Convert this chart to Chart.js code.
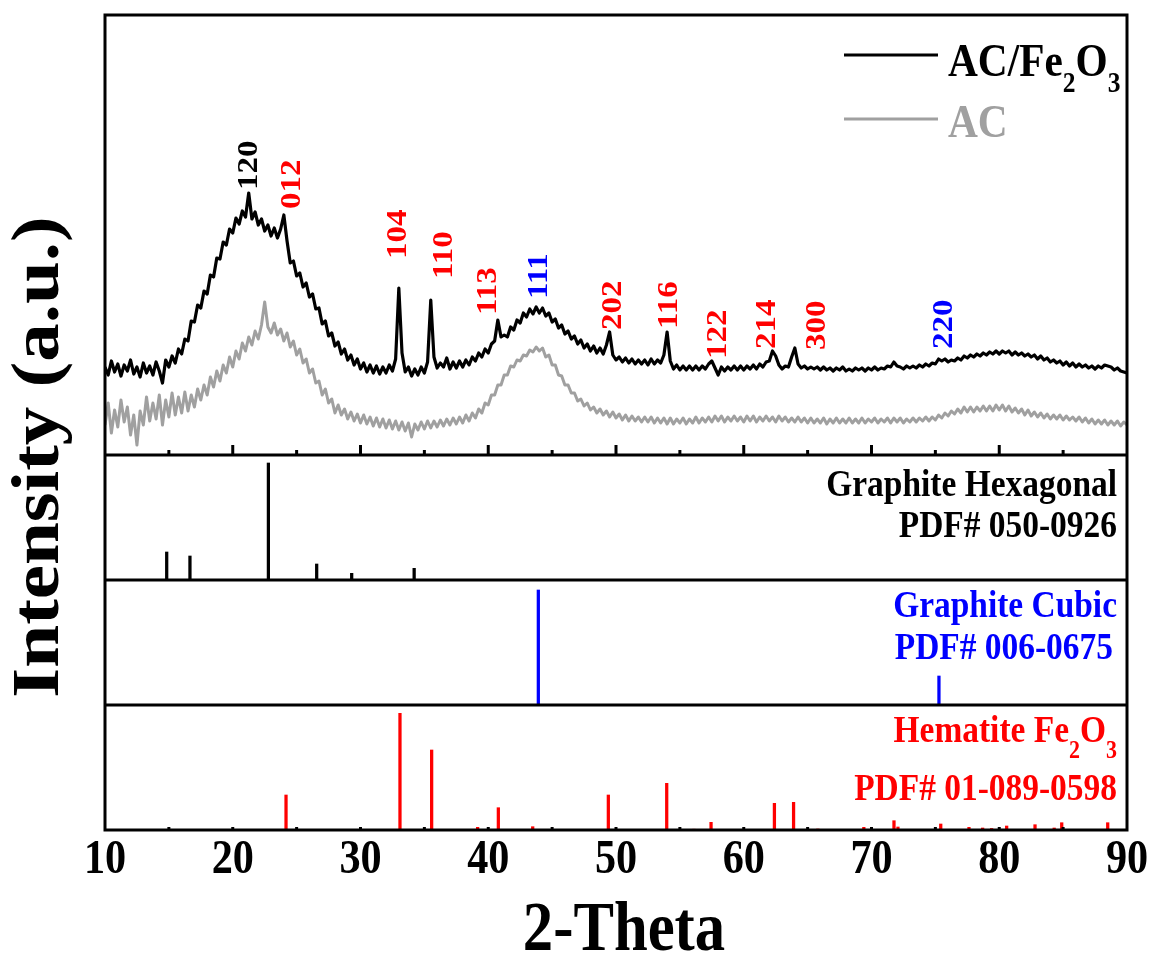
<!DOCTYPE html>
<html>
<head>
<meta charset="utf-8">
<script src="https://cdn.jsdelivr.net/npm/chart.js@4.4.1/dist/chart.umd.min.js"></script>
<style>
html, body { margin: 0; padding: 0; background: #fff; }
canvas { display: block; }
</style>
</head>
<body>
<canvas id="chart" width="1151" height="953"></canvas>
<script>
// 2-theta grid of the measured patterns: 10.00, 10.25, ... 90.00
const thetaStart = 10;
const thetaStep = 0.25;

// AC/Fe2O3 pattern, 4 points per degree
const acFe2o3 = [
    88, 80, 94, 83,   91, 79, 90, 84,   95, 81, 88, 78,   92, 82, 89, 80,
    93, 84, 72, 95,   88, 99, 92, 106,  101, 116, 114, 134, 133, 150, 147, 164,
    161, 180, 178, 197, 196, 213, 210, 226, 222, 237, 231, 244, 238, 262, 236, 243,
    230, 236, 224, 230, 219, 227, 217, 226, 240, 214, 192, 194, 179, 182, 168, 172,
    158, 161, 146, 147, 131, 134, 119, 122, 109, 113, 101, 106, 95, 100, 90, 96,
    86, 92, 83, 90,   82, 89, 81, 88,   82, 90, 84, 96,   167, 102, 83, 88,
    79, 86, 80, 88,   82, 93, 155, 98,  87, 92, 88, 97,   86, 93, 87, 94,
    88, 95, 90, 98,   94, 102, 98, 106, 102, 111, 114, 135, 118, 120, 118, 128,
    125, 135, 132, 142, 138, 146, 141, 148, 142, 147, 139, 142, 133, 136, 127, 130,
    121, 124, 116, 119, 111, 115, 107, 111, 104, 109, 102, 107, 101, 110, 123, 100,
    95, 98, 93, 97,   92, 96, 91, 95,   91, 95, 90, 96,   91, 95, 92, 100,
    123, 94, 86, 90,  85, 89, 85, 89,   85, 89, 85, 89,   86, 91, 94, 87,
    80, 88, 84, 88,   85, 89, 85, 89,   85, 89, 86, 90,   86, 91, 88, 93,
    94, 104, 99, 90,  86, 89, 88, 98,   107, 91, 87, 89,  86, 88, 86, 88,
    85, 88, 85, 87,   84, 87, 85, 88,   84, 86, 84, 87,   85, 87, 84, 87,
    85, 88, 85, 87,   86, 89, 88, 93,   89, 88, 86, 89,   87, 89, 87, 90,
    88, 91, 89, 92,   91, 96, 94, 96,   93, 95, 94, 97,   95, 99, 97, 100,
    98, 101, 99, 102, 100, 103, 101, 104, 101, 104, 102, 104, 100, 103, 100, 102,
    99, 101, 98, 100, 96, 99, 95, 97,   93, 95, 92, 94,   90, 93, 89, 92,
    88, 91, 88, 90,   87, 89, 86, 89,   87, 90, 89, 88,   85, 87, 84, 83,
    82
];

// AC pattern, same grid
const ac = [
    30, 52, 22, 45,   28, 55, 33, 48,   20, 40, 10, 44,   30, 58, 34, 52,
    36, 60, 30, 55,   38, 62, 40, 58,   42, 63, 44, 60,   48, 66, 55, 70,
    60, 78, 68, 84,   74, 90, 82, 98,   88, 104, 96, 112, 104, 118, 110, 124,
    116, 130, 153, 128, 122, 132, 120, 126, 114, 122, 108, 114, 100, 106, 92, 96,
    82, 86, 72, 74,   60, 66, 52, 56,   42, 50, 40, 46,   36, 43, 34, 41,
    32, 40, 31, 38,   29, 37, 28, 36,   27, 35, 26, 34,   25, 33, 24, 32,
    18, 31, 25, 33,   26, 34, 27, 34,   28, 35, 29, 36,   30, 37, 31, 38,
    32, 40, 34, 42,   37, 46, 42, 52,   50, 60, 60, 70,   70, 80, 80, 89,
    88, 95, 94, 100,  99, 105, 103, 108, 104, 107, 98, 100, 90, 90, 80, 79,
    70, 70, 62, 62,   54, 56, 49, 52,   45, 48, 42, 46,   40, 44, 38, 43,
    37, 41, 35, 40,   34, 39, 34, 38,   33, 38, 33, 38,   32, 37, 32, 37,
    31, 37, 31, 36,   32, 37, 31, 36,   32, 38, 32, 37,   33, 38, 33, 39,
    34, 39, 33, 38,   34, 39, 34, 38,   33, 39, 34, 39,   33, 38, 34, 39,
    34, 38, 33, 39,   34, 38, 33, 37,   33, 38, 33, 37,   32, 37, 32, 36,
    32, 37, 31, 36,   32, 37, 32, 36,   32, 37, 32, 36,   32, 37, 32, 36,
    33, 37, 32, 36,   33, 37, 32, 37,   33, 37, 32, 36,   33, 37, 33, 37,
    34, 38, 34, 38,   35, 40, 37, 42,   39, 44, 41, 46,   42, 48, 43, 48,
    43, 48, 44, 49,   44, 49, 44, 50,   45, 50, 44, 49,   43, 47, 42, 46,
    40, 45, 39, 43,   38, 42, 37, 41,   36, 40, 36, 40,   35, 39, 35, 38,
    34, 38, 33, 37,   32, 36, 31, 35,   31, 35, 30, 34,   30, 34, 29, 33,
    30
];

// reference stick patterns
const hexPos = [14.83, 16.65, 22.79, 26.57, 29.31, 34.2];
const hexInt = [28, 24, 117, 16, 6.7, 11.7];

const cubPos = [43.92, 75.28];
const cubInt = [115, 29];

const hemPos = [24.17, 33.09, 35.57, 39.17, 40.79, 43.48, 49.4, 53.97, 56.1, 57.44,
    62.4, 63.9, 65.8, 69.4, 71.76, 72.07, 75.42, 77.63, 78.7, 79.4,
    80.58, 82.8, 84.3, 84.89, 88.49];
const hemInt = [35, 116.7, 80, 2.7, 22.3, 3.3, 35, 46.7, 0.8, 7.7,
    26.7, 27.7, 1, 2.7, 9.3, 3, 6, 2.7, 2, 1.5,
    4, 5.3, 2, 7.3, 7.3];

// peak indices above the AC/Fe2O3 pattern
const peakText = ["120", "012", "104", "110", "113", "111", "202", "116", "122", "214", "300", "220"];
const peakPos = [21.15, 24.45, 32.77, 36.4, 39.84, 43.82, 49.59, 53.98, 57.83, 61.68, 65.58, 75.55];
const peakBase = [265, 246, 196, 176, 140, 156, 125, 126, 96, 106, 105, 106];
const peakColor = ["#000", "#f00", "#f00", "#f00", "#f00", "#00f", "#f00", "#f00", "#f00", "#f00", "#f00", "#00f"];

const xTicks = [10, 20, 30, 40, 50, 60, 70, 80, 90];

const SERIF = "'Liberation Serif', 'Times New Roman', serif";
const SX = 0.88;


function curve(vals) {
    return vals.map((v, i) => ({ x: thetaStart + i * thetaStep, y: v }));
}

function sticks(pos, inten) {
    return pos.map((p, i) => ({ x: p, y: inten[i] }));
}

function stickSet(pos, inten, color, axis) {
    return {
        type: "bar",
        data: sticks(pos, inten),
        yAxisID: axis,
        backgroundColor: color,
        borderWidth: 0,
        barThickness: 2.6,
        grouped: false
    };
}

function hiddenY(max, weight, stackWeight) {
    return {
        type: "linear",
        position: "left",
        stack: "xrd",
        stackWeight: stackWeight,
        weight: weight,
        min: 0,
        max: max,
        ticks: { display: false },
        grid: { display: false, drawTicks: false },
        border: { display: false }
    };
}

// draws text squeezed horizontally, like the narrow type of the figure
function say(ctx, s, x, y, size, color, align, rotate) {
    ctx.save();
    ctx.translate(x, y);
    ctx.scale(SX, 1);
    if (rotate) ctx.rotate(-Math.PI / 2);
    ctx.font = "bold " + size + "px " + SERIF;
    ctx.fillStyle = color;
    ctx.textAlign = align || "left";
    ctx.textBaseline = "alphabetic";
    ctx.fillText(s, 0, 0);
    ctx.restore();
}

function width(ctx, s, size) {
    ctx.font = "bold " + size + "px " + SERIF;
    return ctx.measureText(s).width * SX;
}

// text with subscripts, parts = [[text, isSub], ...], right or left anchored
function sayParts(ctx, parts, x, y, size, subSize, color, align) {
    let total = 0;
    parts.forEach(p => { total += width(ctx, p[0], p[1] ? subSize : size); });
    let cx = align === "right" ? x - total : x;
    parts.forEach(p => {
        const sz = p[1] ? subSize : size;
        say(ctx, p[0], cx, p[1] ? y + 16 : y, sz, color, "left", false);
        cx += width(ctx, p[0], sz);
    });
}


const framePlugin = {
    id: "frame",
    afterDatasetsDraw(chart) {
        const ctx = chart.ctx;
        const a = chart.chartArea;
        const x = chart.scales.x;
        const yTop = chart.scales.yTop;
        const yHex = chart.scales.yHex;
        const yCub = chart.scales.yCub;
        const yHem = chart.scales.yHem;

        ctx.save();
        ctx.strokeStyle = "#000";
        ctx.lineWidth = 3;
        ctx.strokeRect(a.left, a.top, a.right - a.left, a.bottom - a.top);

        ctx.beginPath();
        [yTop.bottom, yHex.bottom, yCub.bottom].forEach(yy => {
            ctx.moveTo(a.left, yy);
            ctx.lineTo(a.right, yy);
        });
        ctx.stroke();

        // inward ticks under the measured patterns and on the bottom axis
        ctx.beginPath();
        for (let t = 15; t < 90; t += 5) {
            const px = x.getPixelForValue(t);
            const len = t % 10 === 0 ? 10 : 5;
            ctx.moveTo(px, yTop.bottom);
            ctx.lineTo(px, yTop.bottom - len);
            ctx.moveTo(px, a.bottom);
            ctx.lineTo(px, a.bottom - 3);
        }
        ctx.stroke();
        ctx.restore();

        // tick labels and axis titles
        xTicks.forEach(t => {
            say(ctx, String(t), x.getPixelForValue(t), 873, 48, "#000", "center", false);
        });
        say(ctx, "2-Theta", (a.left + a.right) / 2 + 8, 950, 69, "#000", "center", false);
        say(ctx, "Intensity (a.u.)", 58, yTop.bottom + 2, 77, "#000", "center", true);

        // peak indices
        peakText.forEach((s, i) => {
            say(ctx, s, x.getPixelForValue(peakPos[i]) + 10, yTop.getPixelForValue(peakBase[i]),
                33, peakColor[i], "left", true);
        });

        // legend
        const lx = a.right - 283;
        ctx.save();
        ctx.lineWidth = 3;
        ctx.strokeStyle = "#000";
        ctx.beginPath();
        ctx.moveTo(lx, a.top + 40);
        ctx.lineTo(lx + 94, a.top + 40);
        ctx.stroke();
        ctx.strokeStyle = "#a0a0a0";
        ctx.beginPath();
        ctx.moveTo(lx, a.top + 104);
        ctx.lineTo(lx + 94, a.top + 104);
        ctx.stroke();
        ctx.restore();
        sayParts(ctx, [["AC/Fe", false], ["2", true], ["O", false], ["3", true]],
            lx + 104, a.top + 61, 47, 29, "#000", "left");
        say(ctx, "AC", lx + 104, a.top + 122, 47, "#a0a0a0", "left", false);

        // reference card names
        const rx = a.right - 10;
        say(ctx, "Graphite Hexagonal", rx, yHex.top + 41, 38, "#000", "right", false);
        say(ctx, "PDF# 050-0926", rx, yHex.top + 82, 38, "#000", "right", false);
        say(ctx, "Graphite Cubic", rx, yCub.top + 37, 38, "#00f", "right", false);
        say(ctx, "PDF# 006-0675", rx - 4, yCub.top + 79, 38, "#00f", "right", false);
        sayParts(ctx, [["Hematite Fe", false], ["2", true], ["O", false], ["3", true]],
            rx, yHem.top + 37, 38, 25, "#f00", "right");
        say(ctx, "PDF# 01-089-0598", rx, yHem.top + 95, 38, "#f00", "right", false);
    }
};


new Chart(document.getElementById("chart"), {

    type: "line",

    data: {
        datasets: [
            {
                label: "AC/Fe2O3",
                data: curve(acFe2o3),
                yAxisID: "yTop",
                borderColor: "#000",
                borderWidth: 3.2,
                borderJoinStyle: "round",
                pointRadius: 0,
                tension: 0
            },
            {
                label: "AC",
                data: curve(ac),
                yAxisID: "yTop",
                borderColor: "#a0a0a0",
                borderWidth: 3,
                borderJoinStyle: "round",
                pointRadius: 0,
                tension: 0
            },
            stickSet(hexPos, hexInt, "#000", "yHex"),
            stickSet(cubPos, cubInt, "#00f", "yCub"),
            stickSet(hemPos, hemInt, "#f00", "yHem")
        ]
    },

    options: {
        responsive: false,
        animation: false,
        devicePixelRatio: 1,
        layout: {
            padding: { left: 105, right: 24, top: 15, bottom: 123 }
        },
        plugins: {
            legend: { display: false },
            tooltip: { enabled: false }
        },
        scales: {
            x: {
                type: "linear",
                min: 10,
                max: 90,
                offset: false,
                ticks: { display: false, stepSize: 10 },
                grid: { display: false, drawTicks: false },
                border: { display: false }
            },
            yTop: hiddenY(440, 4, 440),
            yHex: hiddenY(125, 3, 125),
            yCub: hiddenY(125, 2, 125),
            yHem: hiddenY(125, 1, 125)
        }
    },

    plugins: [framePlugin]
});
</script>
</body>
</html>
